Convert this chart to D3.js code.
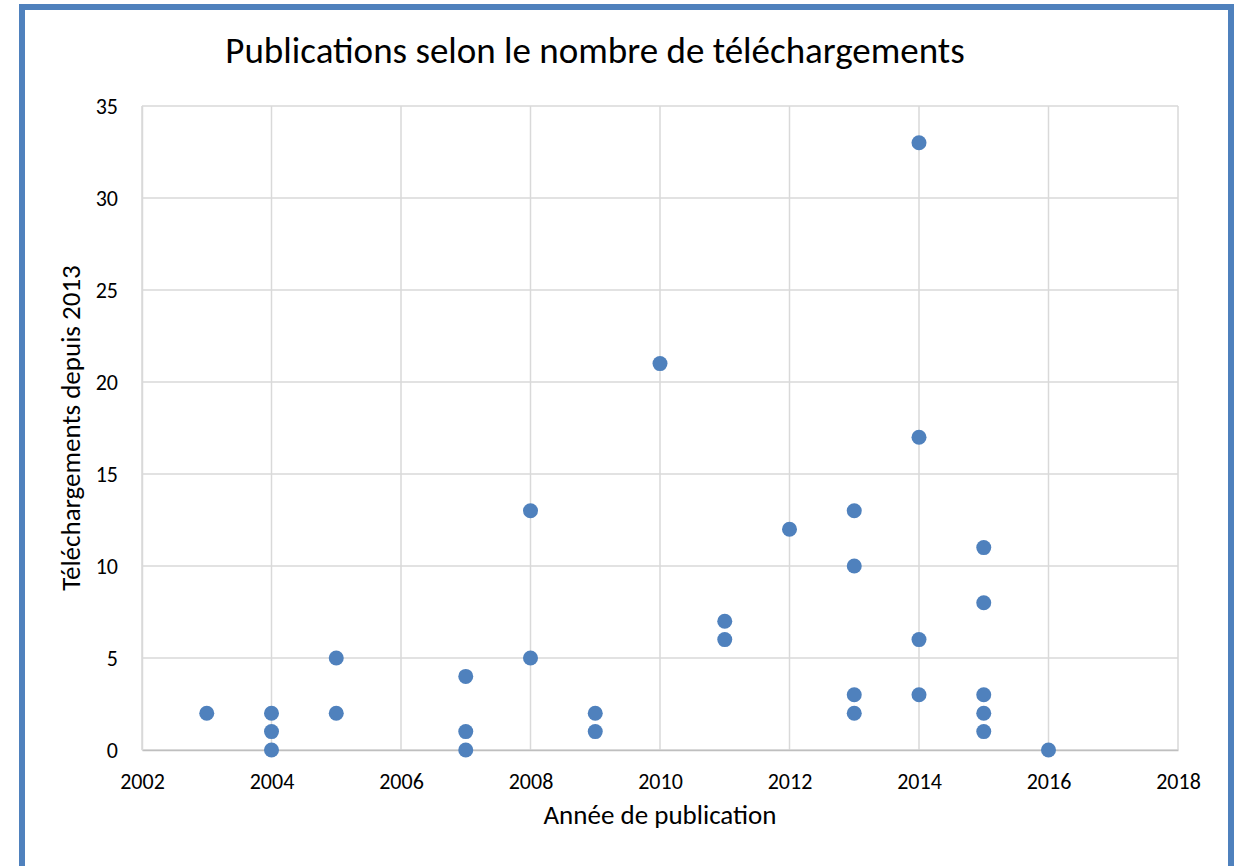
<!DOCTYPE html>
<html>
<head>
<meta charset="utf-8">
<script src="https://cdn.jsdelivr.net/npm/d3@7"></script>
<style>
  body { margin: 0; background: #fff; }
  svg { display: block; font-family: Carlito, Calibri, "Liberation Sans", sans-serif; }
</style>
</head>
<body>
<svg width="1245" height="866"></svg>
<script>
// données : année de publication / téléchargements
var years = [2003, 2004, 2004, 2004, 2005, 2005, 2007, 2007, 2007, 2008, 2008,
             2009, 2009, 2010, 2011, 2011, 2012, 2013, 2013, 2013, 2013,
             2014, 2014, 2014, 2014, 2015, 2015, 2015, 2015, 2015, 2016];
var downloads = [2, 2, 1, 0, 5, 2, 4, 1, 0, 13, 5,
                 2, 1, 21, 7, 6, 12, 13, 10, 3, 2,
                 33, 17, 6, 3, 11, 8, 3, 2, 1, 0];
var xTicks = [2002, 2004, 2006, 2008, 2010, 2012, 2014, 2016, 2018];
var yTicks = [0, 5, 10, 15, 20, 25, 30, 35];

var svg = d3.select("svg");
var blue = "#4f81bd";
var grid = "#d9d9d9";

var plot = {left: 142, right: 1178, top: 106, bottom: 750};

var x = d3.scaleLinear().domain([2002, 2018]).range([plot.left, plot.right]);
var y = d3.scaleLinear().domain([0, 35]).range([plot.bottom, plot.top]);

// cadre bleu
svg.append("rect")
    .attr("x", 22).attr("y", 7)
    .attr("width", 1209).attr("height", 880)
    .attr("fill", "none")
    .attr("stroke", blue)
    .attr("stroke-width", 6);

// titre
svg.append("text")
    .attr("x", 595).attr("y", 63)
    .attr("text-anchor", "middle")
    .attr("font-size", 37)
    .attr("fill", "#000")
    .text("Publications selon le nombre de téléchargements");

// grille
svg.append("g")
    .selectAll("line")
    .data(xTicks)
    .enter().append("line")
    .attr("x1", function(d) { return x(d); })
    .attr("x2", function(d) { return x(d); })
    .attr("y1", plot.top).attr("y2", plot.bottom)
    .attr("stroke", grid).attr("stroke-width", 1.5);

svg.append("g")
    .selectAll("line")
    .data(yTicks)
    .enter().append("line")
    .attr("x1", plot.left).attr("x2", plot.right)
    .attr("y1", function(d) { return y(d); })
    .attr("y2", function(d) { return y(d); })
    .attr("stroke", grid).attr("stroke-width", 1.5);

// axes
var xAxis = svg.append("g")
    .attr("transform", "translate(0," + plot.bottom + ")")
    .call(d3.axisBottom(x).tickValues(xTicks).tickFormat(d3.format("d")).tickSize(0));
xAxis.attr("font-family", null).attr("font-size", null);
xAxis.select(".domain").attr("stroke", "#bfbfbf").attr("stroke-width", 1.5);
xAxis.selectAll("text")
    .attr("y", 39).attr("dy", null)
    .attr("font-size", 22).attr("fill", "#000");

var yAxis = svg.append("g")
    .attr("transform", "translate(" + plot.left + ",0)")
    .call(d3.axisLeft(y).tickValues(yTicks).tickSize(0).tickPadding(24));
yAxis.attr("font-family", null).attr("font-size", null);
yAxis.select(".domain").attr("stroke", grid).attr("stroke-width", 1.5);
yAxis.selectAll("text").attr("font-size", 22).attr("fill", "#000");

// titres des axes
svg.append("text")
    .attr("x", (plot.left + plot.right) / 2).attr("y", 824)
    .attr("text-anchor", "middle")
    .attr("font-size", 27)
    .text("Année de publication");

svg.append("text")
    .attr("transform", "translate(80," + (plot.top + plot.bottom) / 2 + ") rotate(-90)")
    .attr("text-anchor", "middle")
    .attr("font-size", 27)
    .text("Téléchargements depuis 2013");

// points
svg.append("g")
    .selectAll("circle")
    .data(years)
    .enter().append("circle")
    .attr("cx", function(d) { return x(d); })
    .attr("cy", function(d, i) { return y(downloads[i]); })
    .attr("r", 7.5)
    .attr("fill", blue);
</script>
</body>
</html>
